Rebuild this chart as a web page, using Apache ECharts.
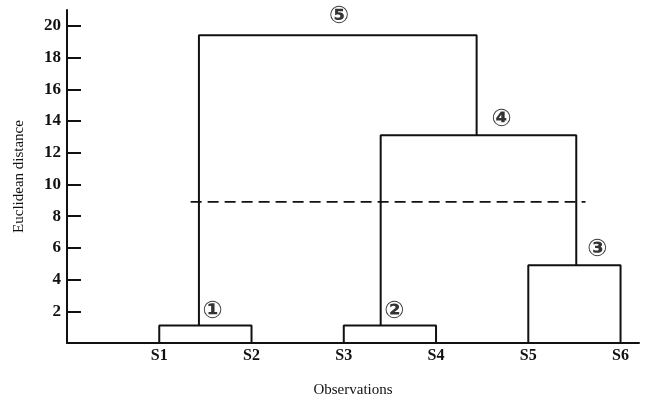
<!DOCTYPE html>
<html>
<head>
<meta charset="utf-8">
<script src="https://cdn.jsdelivr.net/npm/echarts@6/dist/echarts.min.js"></script>
<style>
  html, body { margin: 0; padding: 0; background: #fff; }
  #chart { width: 649px; height: 403px; }
</style>
</head>
<body>
<div id="chart"></div>
<script>
var obsLabels = ['S1', 'S2', 'S3', 'S4', 'S5', 'S6'];
var yTicks = [2, 4, 6, 8, 10, 12, 14, 16, 18, 20];

// each merge: left leg x, right leg x, foot heights and join height
var mergeLeftX = [1, 3, 5, 3.4, 1.43];
var mergeRightX = [2, 4, 6, 5.52, 4.44];
var mergeLeftBase = [0, 0, 0, 1.1, 1.1];
var mergeRightBase = [0, 0, 0, 4.9, 13.1];
var mergeHeights = [1.1, 1.1, 4.9, 13.1, 19.4];
var mergeNames = ['①', '②', '③', '④', '⑤'];
var mergeLabelX = [1.58, 3.55, 5.75, 4.71, 2.95];
var mergeLabelY = [2.0, 2.0, 5.85, 14.05, 20.6];

var cutHeight = 8.9;
var cutRange = [1.34, 5.62];

(function() {
  var chart = echarts.init(document.getElementById('chart'), null, { renderer: 'canvas' });
  var font = '"Liberation Serif", "DejaVu Serif", serif';

  var series = mergeHeights.map(function(h, i) {
    return {
      type: 'line',
      silent: true,
      symbol: 'none',
      lineStyle: { color: '#111', width: 2 },
      data: [
        [mergeLeftX[i], mergeLeftBase[i]],
        [mergeLeftX[i], h],
        [mergeRightX[i], h],
        [mergeRightX[i], mergeRightBase[i]]
      ]
    };
  });

  series.push({
    type: 'line',
    silent: true,
    symbol: 'none',
    lineStyle: { color: '#111', width: 1.6, type: [11, 6] },
    data: [[cutRange[0], cutHeight], [cutRange[1], cutHeight]]
  });

  series.push({
    type: 'scatter',
    silent: true,
    symbolSize: 0,
    label: {
      show: true,
      position: 'inside',
      formatter: function(p) { return mergeNames[p.dataIndex]; },
      color: '#000',
      fontFamily: '"DejaVu Sans", sans-serif',
      fontWeight: 'bold',
      fontSize: 24
    },
    data: mergeLabelX.map(function(x, i) { return [x, mergeLabelY[i]]; })
  });

  var option = {
    animation: false,
    grid: { left: 67, right: 10, top: 10, bottom: 57 },
    xAxis: {
      type: 'value',
      min: 0,
      max: 6.2,
      interval: 1,
      name: 'Observations',
      nameLocation: 'middle',
      nameGap: 40,
      nameTextStyle: { color: '#111', fontFamily: font, fontSize: 15 },
      axisLine: { lineStyle: { color: '#111', width: 2 } },
      axisTick: { show: false },
      splitLine: { show: false },
      axisLabel: {
        color: '#111',
        fontFamily: font,
        fontSize: 16,
        fontWeight: 'bold',
        margin: 5,
        customValues: [1, 2, 3, 4, 5, 6],
        formatter: function(v) { return obsLabels[Math.round(v) - 1] || ''; }
      }
    },
    yAxis: {
      type: 'value',
      min: 0,
      max: 21,
      interval: 2,
      name: 'Euclidean distance',
      nameLocation: 'middle',
      nameGap: 40,
      nameTextStyle: { color: '#111', fontFamily: font, fontSize: 15 },
      axisLine: { show: true, lineStyle: { color: '#111', width: 2 } },
      axisTick: {
        show: true,
        inside: true,
        length: 14,
        lineStyle: { color: '#111', width: 2 },
        customValues: yTicks
      },
      splitLine: { show: false },
      axisLabel: {
        color: '#111',
        fontFamily: font,
        fontSize: 17,
        fontWeight: 'bold',
        margin: 6,
        customValues: yTicks
      }
    },
    series: series
  };

  chart.setOption(option);
  window.addEventListener('resize', function() { chart.resize(); });
})();
</script>
</body>
</html>
